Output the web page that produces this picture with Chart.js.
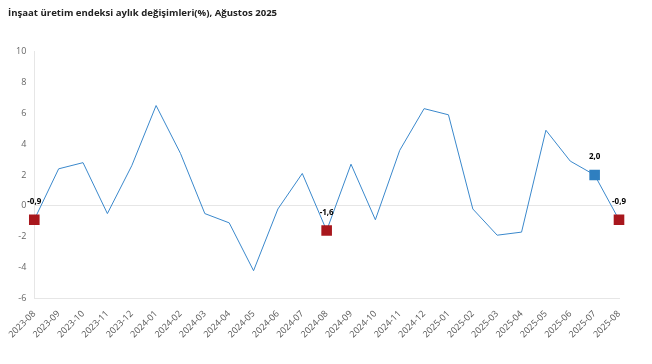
<!DOCTYPE html>
<html>
<head>
<meta charset="utf-8">
<script src="https://cdn.jsdelivr.net/npm/chart.js@4"></script>
<style>
  html, body { margin: 0; padding: 0; background: #fff; }
  #wrap { width: 652px; height: 364px; }
</style>
</head>
<body>
<div id="wrap"><canvas id="insaat"></canvas></div>
<script>
var months = ['2023-08','2023-09','2023-10','2023-11','2023-12','2024-01','2024-02','2024-03','2024-04','2024-05','2024-06','2024-07','2024-08','2024-09','2024-10','2024-11','2024-12','2025-01','2025-02','2025-03','2025-04','2025-05','2025-06','2025-07','2025-08']
var changes = [-0.9, 2.4, 2.8, -0.5, 2.6, 6.5, 3.4, -0.5, -1.1, -4.2, -0.2, 2.1, -1.6, 2.7, -0.9, 3.6, 6.3, 5.9, -0.2, -1.9, -1.7, 4.9, 2.9, 2.0, -0.9]
var redMarks = [0, 12, 24]
var blueMarks = [23]

var red = '#a8171d'
var blue = '#2f7fc0'

var radii = changes.map(function (v, i) {
    return (redMarks.includes(i) || blueMarks.includes(i)) ? 7.5 : 0
})
var colors = changes.map(function (v, i) {
    return blueMarks.includes(i) ? blue : red
})

// small label plugin for the marked points
var markLabels = {
    id: 'markLabels',
    afterDatasetsDraw: function (chart) {
        var meta = chart.getDatasetMeta(0)
        var ctx = chart.ctx
        ctx.save()
        ctx.font = 'bold 8px "Open Sans"'
        ctx.fillStyle = '#000'
        ctx.textAlign = 'center'
        ctx.textBaseline = 'middle'
        redMarks.concat(blueMarks).forEach(function (i) {
            var p = meta.data[i]
            var txt = changes[i].toFixed(1).replace('.', ',')
            ctx.fillText(txt, p.x, p.y - 18)
        })
        ctx.restore()
    }
}

new Chart('insaat', {
    type: 'line',
    data: {
        labels: months,
        datasets: [{
            data: changes,
            borderColor: '#3a88cc',
            borderWidth: 1,
            tension: 0,
            pointStyle: 'rect',
            pointRadius: radii,
            pointHoverRadius: radii,
            pointBackgroundColor: colors,
            pointBorderColor: colors,
            pointBorderWidth: 0,
        }]
    },
    plugins: [markLabels],
    options: {
        responsive: true,
        maintainAspectRatio: false,
        animation: false,
        layout: {
            padding: { left: 8, right: 33, top: 0, bottom: 22 }
        },
        plugins: {
            legend: { display: false },
            tooltip: { enabled: false },
            title: {
                display: true,
                text: 'İnşaat üretim endeksi aylık değişimleri(%), Ağustos 2025',
                align: 'start',
                color: '#222',
                font: { family: 'Open Sans', size: 9.6, weight: 'bold' },
                padding: { top: 8, bottom: 32 }
            }
        },
        scales: {
            y: {
                min: -6,
                max: 10,
                ticks: {
                    stepSize: 2,
                    color: '#666',
                    font: { family: 'Open Sans', size: 9 },
                    padding: 8
                },
                grid: {
                    drawTicks: false,
                    color: function (c) {
                        return c.tick.value === 0 ? '#e6e6e6' : 'rgba(0,0,0,0)'
                    }
                },
                border: { color: '#e6e6e6' }
            },
            x: {
                offset: false,
                ticks: {
                    color: '#555',
                    font: { family: 'Open Sans', size: 9 },
                    maxRotation: 45,
                    minRotation: 45,
                    autoSkip: false,
                    padding: 2
                },
                grid: { display: false },
                border: { color: '#e6e6e6' }
            }
        }
    }
})
</script>
</body>
</html>
